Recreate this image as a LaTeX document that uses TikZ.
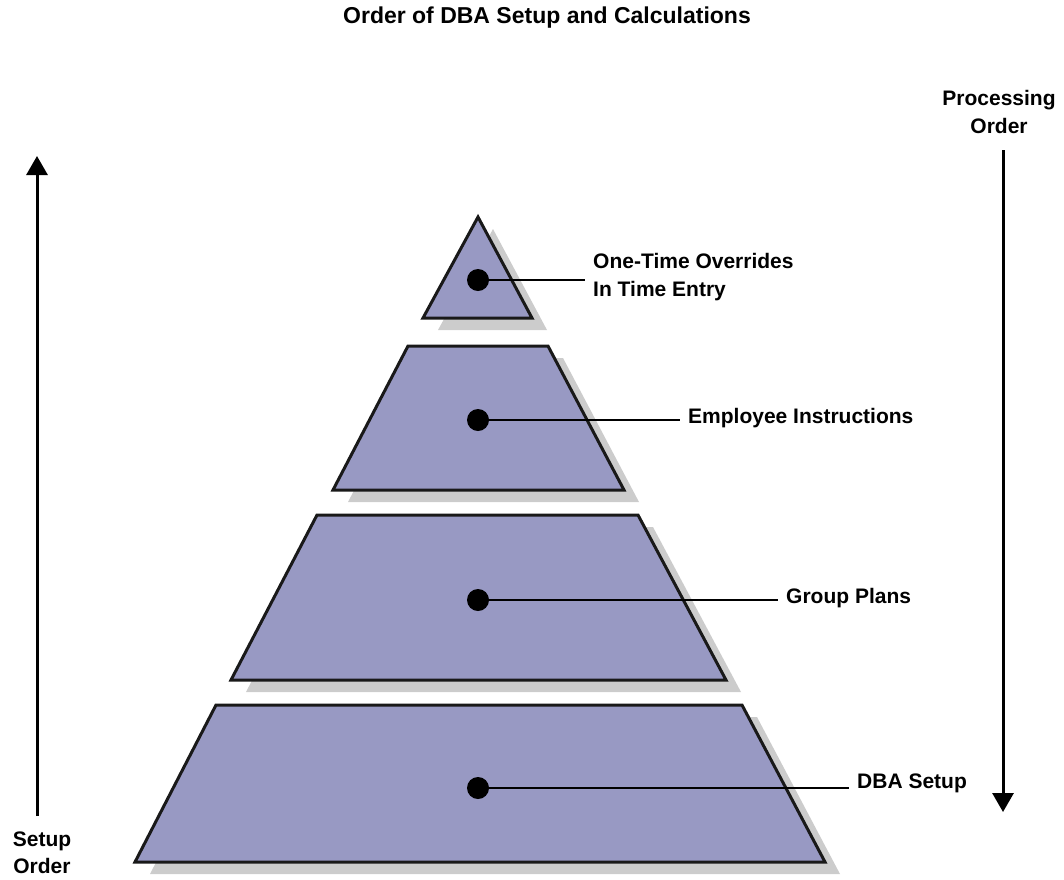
\documentclass[tikz,border=0pt]{standalone}
\usepackage{fontspec}
\setmainfont{Liberation Sans}
\usetikzlibrary{arrows.meta, positioning}

\definecolor{layerblue}{RGB}{152,153,195}
\definecolor{shadowgrey}{RGB}{204,204,204}

\begin{document}
\begin{tikzpicture}[x=1pt, y=-1pt,
        every node/.style={font=\fontsize{21}{28}\selectfont\bfseries},
        layer/.style={fill=layerblue, draw=black!90, line width=3pt, line join=miter},
        shade/.style={fill=shadowgrey, shift={(15,12)}},
        dot/.style={circle, fill=black, minimum size=22pt, inner sep=0pt},
        lbl/.style={anchor=west, align=left, inner xsep=8pt, inner ysep=0pt},
        lead/.style={line width=2.5pt},
        orderarrow/.style={line width=3pt, -{Triangle[width=21pt, length=19pt]}}]
    \useasboundingbox (0,0) rectangle (1064,879);

    \node[font=\fontsize{23}{28}\selectfont\bfseries] (title) at (547,18) {Order of DBA Setup and Calculations};

    % shadows
    \fill[shade] (478,217) -- (532,318) -- (423,318) -- cycle;
    \fill[shade] (408,346) -- (548,346) -- (624,490) -- (333,490) -- cycle;
    \fill[shade] (317,515) -- (638,515) -- (726,680) -- (231,680) -- cycle;
    \fill[shade] (216,705) -- (742,705) -- (825,862) -- (135,862) -- cycle;

    % layers
    \draw[layer] (478,217) -- (532,318) -- (423,318) -- cycle;
    \draw[layer] (408,346) -- (548,346) -- (624,490) -- (333,490) -- cycle;
    \draw[layer] (317,515) -- (638,515) -- (726,680) -- (231,680) -- cycle;
    \draw[layer] (216,705) -- (742,705) -- (825,862) -- (135,862) -- cycle;

    \node[dot] (override) at (478,280) {};
    \node[dot] (employee) at (478,420) {};
    \node[dot] (group) at (478,600) {};
    \node[dot] (dbasetup) at (478,788) {};

    \node[lbl] (overridelbl) at (585,277) {One-Time Overrides\\In Time Entry};
    \node[lbl] (employeelbl) at (680,418) {Employee Instructions};
    \node[lbl] (grouplbl) at (778,598) {Group Plans};
    \node[lbl] (dbasetuplbl) at (849,783) {DBA Setup};

    \draw[lead] (override) -- (override -| overridelbl.west);
    \draw[lead] (employee) -- (employee -| employeelbl.west);
    \draw[lead] (group) -- (group -| grouplbl.west);
    \draw[lead] (dbasetup) -- (dbasetup -| dbasetuplbl.west);

    \node[align=center] (processing) at (999,112) {Processing\\Order};
    \node[align=center, font=\fontsize{21}{27}\selectfont\bfseries] (setup) at (42,853) {Setup\\Order};

    \coordinate (procstart) at (1003,150);
    \coordinate (procend) at (1003,812);
    \coordinate (setupstart) at (37,816);
    \coordinate (setupend) at (37,156);

    \draw[orderarrow] (procstart) -- (procend);
    \draw[orderarrow] (setupstart) -- (setupend);
\end{tikzpicture}
\end{document}
